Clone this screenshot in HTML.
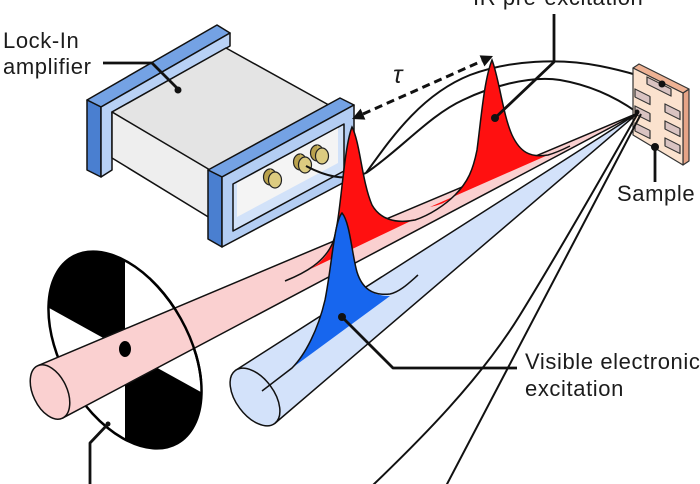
<!DOCTYPE html>
<html><head><meta charset="utf-8">
<style>
html,body{margin:0;padding:0;background:#fff;}
svg{display:block;}
text{font-family:"Liberation Sans",sans-serif;font-size:22px;fill:#1c1c1c;letter-spacing:0.6px;}
</style></head><body>
<svg width="700" height="484" viewBox="0 0 700 484" xmlns="http://www.w3.org/2000/svg">
<defs>
<clipPath id="chop"><ellipse cx="125" cy="350" rx="107" ry="64" transform="rotate(60.7 125 350)"/></clipPath>
<clipPath id="rclip"><rect x="150" y="250" width="80" height="130"/></clipPath>
</defs>

<!-- cables from lock-in to sample (behind pulses) -->
<g fill="none" stroke="#111" stroke-width="2">
<path d="M366,173 C390,140 420,95 470,75 C510,60 560,58 600,66 C630,72 650,79 662,84"/>
<path d="M366,173 C400,150 430,115 463,100 C490,87 530,75 560,80 C595,86 620,100 638,113"/>
</g>

<!-- Lock-in amplifier -->
<g stroke="#111" stroke-width="1.5" stroke-linejoin="round">
<polygon points="87,100 217,25 230,33 101,107" fill="#74a2e4"/>
<polygon points="87,100 101,107 101,177 87,170" fill="#4a7fd0"/>
<polygon points="101,107 230,33 230,46 112,112 112,170 101,177" fill="#b8d1f5"/>
<polygon points="112,112 226,48 345,114 210,172" fill="#e4e4e4"/>
<polygon points="112,112 210,170 210,218 112,158" fill="#eeeeee"/>
<polygon points="208,170 340,98 354,105 222,177" fill="#74a2e4"/>
<polygon points="208,170 222,177 222,247 208,239" fill="#4a7fd0"/>
<polygon points="222,177 354,105 354,177 222,247" fill="#b3cdf3"/>
<polygon points="233,184 344,124 344,171 233,231" fill="#d2e2f9"/>
</g>
<polygon points="237,183 338,128 338,163 237,217" fill="#f4f4f4"/>
<!-- knobs -->
<g stroke="#222" stroke-width="1.2">
<ellipse cx="317" cy="153" rx="6.5" ry="8" fill="#b9a14c"/>
<polygon points="317,145 322,148 322,164 317,161" fill="#c9b35e" stroke="none"/>
<ellipse cx="322" cy="156" rx="6.5" ry="8" fill="#dccb80"/>
<ellipse cx="300" cy="162" rx="6.5" ry="8" fill="#b9a14c"/>
<polygon points="300,154 305,157 305,173 300,170" fill="#c9b35e" stroke="none"/>
<ellipse cx="305" cy="165" rx="6.5" ry="8" fill="#dccb80"/>
<ellipse cx="270" cy="177" rx="6.5" ry="8" fill="#b9a14c"/>
<polygon points="270,169 275,172 275,188 270,185" fill="#c9b35e" stroke="none"/>
<ellipse cx="275" cy="180" rx="6.5" ry="8" fill="#dccb80"/>
</g>
<path d="M306,166 C325,176 345,182 366,173" fill="none" stroke="#111" stroke-width="2"/>

<!-- chopper -->
<g clip-path="url(#chop)">
<rect x="0" y="230" width="240" height="240" fill="#fff"/>
<polygon points="125,350 0,280.75 0,230 125,230" fill="#000"/>
<polygon points="125,350 240,413.7 240,470 125,470" fill="#000"/>
</g>
<ellipse cx="125" cy="350" rx="107" ry="64" transform="rotate(60.7 125 350)" fill="none" stroke="#000" stroke-width="2.5"/>

<!-- sample -->
<g stroke="#333" stroke-width="1.2" stroke-linejoin="round">
<polygon points="683,93 689,89 689,161 683,165" fill="#e6a487"/>
<polygon points="633,68 639,64 689,89 683,93" fill="#eeb294"/>
<polygon points="633,68 683,93 683,165 633,135" fill="#fbe2ce"/>
<g transform="matrix(1,0.5,0,1,633,68)" fill="#d9c3c1">
<rect x="14" y="2" width="24" height="7"/>
<rect x="2" y="20" width="15" height="8"/>
<rect x="2" y="37" width="15" height="8"/>
<rect x="2" y="54" width="15" height="8"/>
<rect x="32" y="20" width="15" height="8"/>
<rect x="32" y="37" width="15" height="8"/>
<rect x="32" y="54" width="15" height="8"/>
</g>
</g>

<!-- pink IR beam -->
<polygon points="37.6,365.8 638,113 62.4,418.2" fill="#fad0d0"/>
<path d="M37.6,365.8 L638,113 M62.4,418.2 L638,113" stroke="#111" stroke-width="1.5" fill="none"/>
<ellipse cx="50" cy="392" rx="29" ry="17" transform="rotate(64.6 50 392)" fill="#fad0d0" stroke="#111" stroke-width="1.5"/>
<g clip-path="url(#rclip)">
<ellipse cx="125" cy="350" rx="107" ry="64" transform="rotate(60.7 125 350)" fill="none" stroke="#000" stroke-width="2.5"/>
</g>
<ellipse cx="125" cy="349" rx="6" ry="8" fill="#000"/>

<!-- red pulses -->
<path d="M300,274 C315,268 328,258 333,242 C341,220 343,150 352,127 C360,142 362,182 372,205 C380,219 395,224 415,219 Z" fill="#ff1010"/>
<path d="M430,207 C445,204 450,199 455,195 C468,182 473,170 477,150 C481,120 484,80 492,60 C499,78 503,115 512,135 C520,152 530,158 548,155 Z" fill="#ff1010"/>
<path d="M285,281 C305,273 325,262 333,242 C341,220 343,150 352,127 C360,142 362,182 372,205 C380,219 395,224 415,220 C430,215 445,205 455,195 C468,182 473,170 477,150 C481,120 484,80 492,60 C499,78 503,115 512,135 C520,152 530,158 548,155 C555,153 562,150 570,146" fill="none" stroke="#111" stroke-width="1.5"/>

<!-- blue visible beam -->
<polygon points="235.3,370.5 638,113 274.7,423.5" fill="#d3e2fa"/>
<path d="M235.3,370.5 L638,113 M274.7,423.5 L638,113" stroke="#111" stroke-width="1.5" fill="none"/>
<ellipse cx="255" cy="397" rx="33" ry="19" transform="rotate(53.4 255 397)" fill="#d3e2fa" stroke="#111" stroke-width="1.5"/>
<path d="M292,368 C305,355 318,330 325,300 C332,265 334,222 342,213 C350,222 352,255 357,272 C362,288 372,296 390,296 Z" fill="#1766ee"/>
<path d="M262,391 L292,368 C305,355 318,330 325,300 C332,265 334,222 342,213 C350,222 352,255 357,272 C362,288 372,296 390,294 C400,292 410,282 418,275" fill="none" stroke="#111" stroke-width="1.5"/>

<!-- lines to bottom -->
<g fill="none" stroke="#111" stroke-width="2">
<path d="M638,113 C600,180 560,250 520,315 C480,380 420,440 372,486"/>
<path d="M641,114 L446,486"/>
</g>
<circle cx="637" cy="112" r="2.5" fill="#111"/>

<!-- tau arrow -->
<line x1="363" y1="114" x2="482" y2="61" stroke="#111" stroke-width="3" stroke-dasharray="8 5"/>
<polygon points="352,119 365.4,119.6 360.6,108.6" fill="#111"/>
<polygon points="493,56 484.4,66.4 479.6,55.4" fill="#111"/>
<text x="393" y="83" font-style="italic" style="font-size:25px;">τ</text>

<!-- leaders -->
<g fill="none" stroke="#111" stroke-width="2.8" stroke-linejoin="round">
<path d="M103,63 L152,63 L178,89"/>
<path d="M554,14 L554,62 L495,118"/>
<path d="M342,317 L393,368 L517,368"/>
<path d="M655,147 L655,182"/>
<path d="M108,424 L90,443 L90,484"/>
</g>
<g fill="#111">
<circle cx="178" cy="90" r="3.5"/>
<circle cx="495" cy="118" r="4"/>
<circle cx="342" cy="317" r="4"/>
<circle cx="655" cy="147" r="4"/>
<circle cx="662" cy="84" r="3.5"/>
<circle cx="108" cy="424" r="2.5"/>
</g>

<!-- labels -->
<text x="473" y="5">IR pre-excitation</text>
<text x="3" y="48">Lock-In</text>
<text x="3" y="74">amplifier</text>
<text x="617" y="201">Sample</text>
<text x="525" y="369">Visible electronic</text>
<text x="525" y="396">excitation</text>
</svg>
</body></html>
